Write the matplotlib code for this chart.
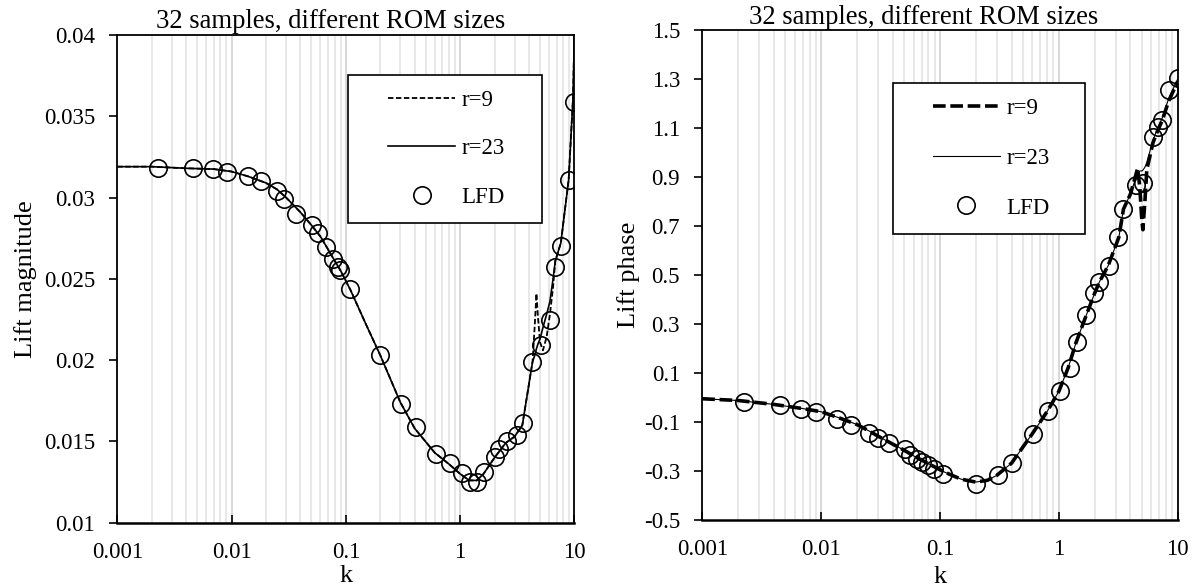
import numpy as np
import matplotlib
matplotlib.use("Agg")
import matplotlib.pyplot as plt
from matplotlib.ticker import LogLocator, FixedLocator, NullFormatter
from matplotlib.legend_handler import HandlerLine2D

plt.rcParams['font.family'] = ['Liberation Serif', 'DejaVu Serif']
plt.rcParams['axes.unicode_minus'] = False

# ---- data ----
title = "32 samples, different ROM sizes"
x_ticks = [0.001, 0.01, 0.1, 1, 10]
x_tick_labels = ["0.001", "0.01", "0.1", "1", "10"]

# LFD samples, magnitude panel
k_mag = [0.00228, 0.00457, 0.00683, 0.00908, 0.0140, 0.0182, 0.0250, 0.0289, 0.0364,
         0.0507, 0.0569, 0.0674, 0.0774, 0.0851, 0.0891, 0.1097, 0.1986, 0.306, 0.407,
         0.613, 0.815, 1.028, 1.227, 1.40, 1.63, 2.03, 2.17, 2.59, 3.14, 3.58, 4.28,
         5.07, 6.15, 6.70, 7.64, 8.91, 10.0]
lfd_mag = [0.03181, 0.03180, 0.03173, 0.03156, 0.03132, 0.03099, 0.03043, 0.02992, 0.02899,
           0.02831, 0.02782, 0.02693, 0.02621, 0.02570, 0.02553, 0.02436, 0.02033, 0.01733,
           0.01589, 0.01424, 0.01370, 0.01308, 0.01252, 0.01252, 0.01314, 0.01407, 0.01452,
           0.01500, 0.01541, 0.01614, 0.01990, 0.02093, 0.02244, 0.02570, 0.02700, 0.03111,
           0.03588]

# ROM curves, magnitude panel
kl_mag = [0.001, 0.002, 0.004, 0.007, 0.01, 0.014, 0.02, 0.025, 0.03, 0.04, 0.05, 0.06,
          0.07, 0.08, 0.09, 0.11, 0.15, 0.2, 0.3, 0.4, 0.6, 0.8, 1.0, 1.2, 1.4, 1.6, 2.0,
          2.5, 3.0, 3.5, 4.3, 4.5, 4.65, 4.8, 5.0, 5.3, 5.7, 6.1, 6.5, 6.8, 7.6, 8.9, 9.7, 10.0]
r23_mag = [0.0319, 0.0319, 0.0318, 0.03175, 0.0316, 0.0313, 0.0309, 0.0305, 0.0300, 0.0291,
           0.0283, 0.0276, 0.0268, 0.0261, 0.0255, 0.0243, 0.0222, 0.0203, 0.0174, 0.0158,
           0.0143, 0.0136, 0.0130, 0.0126, 0.0126, 0.0130, 0.0140, 0.0149, 0.0153, 0.0160,
           0.0199, 0.0203, 0.0207, 0.0210, 0.0213, 0.0220, 0.0228, 0.0236, 0.0250, 0.0261,
           0.0272, 0.0311, 0.0360, 0.0400]
r9_mag = [0.0319, 0.0319, 0.0318, 0.03175, 0.0316, 0.0313, 0.0309, 0.0305, 0.0300, 0.0291,
          0.0283, 0.0276, 0.0268, 0.0261, 0.0255, 0.0243, 0.0222, 0.0203, 0.0174, 0.0158,
          0.0143, 0.0136, 0.0130, 0.0126, 0.0126, 0.0130, 0.0140, 0.0149, 0.0153, 0.0160,
          0.0199, 0.0222, 0.0241, 0.0226, 0.0211, 0.0206, 0.0214, 0.0228, 0.0245, 0.0261,
          0.0272, 0.0311, 0.0360, 0.0400]

# LFD samples, phase panel
k_ph = [0.00226, 0.00454, 0.00682, 0.00912, 0.0137, 0.0180, 0.0255, 0.0301, 0.0370, 0.0505,
        0.0565, 0.0636, 0.0711, 0.0795, 0.0888, 0.107, 0.1995, 0.306, 0.406, 0.611, 0.815,
        1.02, 1.24, 1.41, 1.69, 1.99, 2.19, 2.63, 3.17, 3.49, 4.42, 5.13, 6.18, 6.80, 7.44,
        8.43, 10.0]
lfd_ph = [-0.018, -0.032, -0.045, -0.061, -0.086, -0.113, -0.144, -0.167, -0.185, -0.212,
          -0.235, -0.249, -0.262, -0.276, -0.290, -0.313, -0.351, -0.318, -0.268, -0.147,
          -0.056, 0.025, 0.122, 0.226, 0.335, 0.425, 0.473, 0.538, 0.654, 0.769, 0.867,
          0.877, 1.062, 1.103, 1.133, 1.255, 1.303]

# ROM curves, phase panel
kl_ph = [0.001, 0.002, 0.004, 0.007, 0.01, 0.014, 0.02, 0.025, 0.03, 0.04, 0.05, 0.06, 0.07,
         0.08, 0.09, 0.11, 0.15, 0.2, 0.25, 0.3, 0.4, 0.6, 0.8, 1.0, 1.2, 1.4, 1.7, 2.0, 2.2,
         2.6, 3.2, 3.5, 4.0, 4.4, 4.6, 4.8, 5.0, 5.1, 5.3, 5.5, 6.2, 6.8, 7.4, 8.4, 10.0]
r23_ph = [-0.005, -0.012, -0.028, -0.045, -0.058, -0.082, -0.110, -0.135, -0.157, -0.190,
          -0.215, -0.238, -0.255, -0.270, -0.283, -0.305, -0.333, -0.345, -0.338, -0.318,
          -0.268, -0.147, -0.056, 0.025, 0.122, 0.226, 0.335, 0.425, 0.473, 0.538, 0.654,
          0.769, 0.830, 0.890, 0.915, 0.925, 0.925, 0.928, 0.940, 0.960, 1.050, 1.100,
          1.140, 1.220, 1.300]
r9_ph = [-0.005, -0.012, -0.028, -0.045, -0.058, -0.082, -0.110, -0.135, -0.157, -0.190,
         -0.215, -0.238, -0.255, -0.270, -0.283, -0.305, -0.333, -0.345, -0.338, -0.318,
         -0.268, -0.147, -0.056, 0.025, 0.122, 0.226, 0.335, 0.425, 0.473, 0.538, 0.654,
         0.769, 0.830, 0.900, 0.935, 0.860, 0.720, 0.685, 0.800, 0.930, 1.040, 1.090,
         1.130, 1.210, 1.290]

TICK_FS = 16.5
LABEL_FS = 19
TITLE_FS = 19.2


def style_axes(ax, yticks, ylim, ylabel, ylab_x, title_pad):
    ax.set_xscale('log')
    ax.set_xlim(0.001, 10)
    ax.set_ylim(*ylim)
    ax.xaxis.set_major_locator(FixedLocator(x_ticks))
    ax.set_xticklabels(x_tick_labels)
    ax.xaxis.set_minor_locator(LogLocator(base=10, subs=np.arange(2, 10)))
    ax.xaxis.set_minor_formatter(NullFormatter())
    ax.set_yticks(yticks)
    # vertical grid only, minor lines a bit lighter
    ax.grid(True, which='minor', axis='x', color='#e6e6e6', lw=1.3, zorder=0)
    ax.grid(True, which='major', axis='x', color='#d6d6d6', lw=1.3, zorder=0)
    ax.tick_params(axis='x', which='major', direction='in', length=6, width=1.2,
                   pad=14, labelsize=TICK_FS)
    ax.tick_params(axis='x', which='minor', length=0)
    ax.tick_params(axis='y', direction='out', length=6, width=1.2, pad=10,
                   labelsize=TICK_FS)
    for s in ax.spines.values():
        s.set_linewidth(1.3)
    ax.spines['bottom'].set_linewidth(1.8)
    ax.set_axisbelow(True)
    ax.set_xlabel('k', fontsize=LABEL_FS)
    ax.set_ylabel(ylabel, fontsize=LABEL_FS)
    ax.yaxis.set_label_coords(ylab_x, 0.5)
    ax.set_title(title, fontsize=TITLE_FS, x=0.466, pad=title_pad)


def add_legend(ax, anchor, spacing):
    # handles padded on the left so the entries sit in from the frame, like the original
    hmap = {h: HandlerLine2D(xpad=1.1) for h in ax.get_lines()}
    leg = ax.legend(loc='upper left', bbox_to_anchor=anchor, mode='expand', frameon=True,
                    fancybox=False, edgecolor='black', framealpha=1, fontsize=TICK_FS,
                    handlelength=4.0, handletextpad=0.28, labelspacing=spacing,
                    borderpad=0.66, borderaxespad=0, handler_map=hmap)
    leg.get_frame().set_linewidth(1.2)
    return leg


fig = plt.figure(figsize=(11.99, 5.88), dpi=100)
ax1 = fig.add_axes([0.0978, 0.1111, 0.3813, 0.8294])
ax2 = fig.add_axes([0.5857, 0.1156, 0.3965, 0.8333])

# magnitude
ax1.plot(kl_mag, r9_mag, color='black', lw=1.3, ls=(0, (3, 1.4)), label='r=9', zorder=3)
ax1.plot(kl_mag, r23_mag, color='black', lw=1.2, label='r=23', zorder=3)
ax1.plot(k_mag, lfd_mag, ls='none', marker='o', ms=12.5, mfc='none', mec='black',
         mew=1.2, label='LFD', zorder=4)
style_axes(ax1, [0.01, 0.015, 0.02, 0.025, 0.03, 0.035, 0.04], (0.01, 0.04),
           'Lift magnitude', -0.176, 5)
ax1.set_yticklabels(['0.01', '0.015', '0.02', '0.025', '0.03', '0.035', '0.04'])
ax1.xaxis.set_label_coords(0.5, -0.087)
add_legend(ax1, (0.505, 0.62, 0.424, 0.298), 1.19)

# phase
ax2.plot(kl_ph, r9_ph, color='black', lw=2.6, ls=(0, (3.5, 1.3)), label='r=9', zorder=3)
ax2.plot(kl_ph, r23_ph, color='black', lw=0.8, label='r=23', zorder=3)
ax2.plot(k_ph, lfd_ph, ls='none', marker='o', ms=12.5, mfc='none', mec='black',
         mew=1.2, label='LFD', zorder=4)
style_axes(ax2, [-0.5, -0.3, -0.1, 0.1, 0.3, 0.5, 0.7, 0.9, 1.1, 1.3, 1.5], (-0.5, 1.5),
           'Lift phase', -0.13, 3)
ax2.xaxis.set_label_coords(0.5, -0.093)
add_legend(ax2, (0.401, 0.59, 0.404, 0.302), 1.25)

fig.savefig('out.png', dpi=100)
